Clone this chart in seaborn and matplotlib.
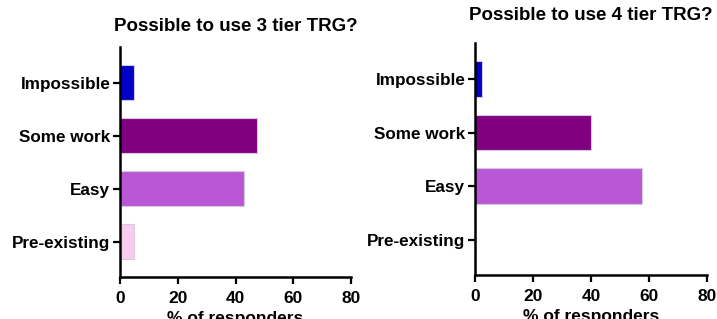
import pandas as pd
import numpy as np
import matplotlib
matplotlib.use('Agg')
import matplotlib.pyplot as plt
import seaborn as sns

categories = ['Impossible', 'Some work', 'Easy', 'Pre-existing']
tier3_pct = [4.76, 47.6, 42.9, 4.76]
tier4_pct = [2.5, 40.0, 57.5, 0.0]
titles = ['Possible to use 3 tier TRG?', 'Possible to use 4 tier TRG?']
bar_colors = ['#0000C8', '#800080', '#B957D6', '#F8CCEE']
x_ticks = [0, 20, 40, 60, 80]

sns.set_style('white')
plt.rcParams['font.family'] = ['Liberation Sans', 'DejaVu Sans']
plt.rcParams['font.weight'] = 'bold'
plt.rcParams['text.color'] = 'black'
plt.rcParams['axes.labelcolor'] = 'black'

fig = plt.figure(figsize=(7.17, 3.19), dpi=100)
ax1 = fig.add_axes([0.1674, 0.1317, 0.3222, 0.7210])
ax2 = fig.add_axes([0.6625, 0.1380, 0.3232, 0.7270])

for ax, vals, title, tpad in zip([ax1, ax2], [tier3_pct, tier4_pct], titles, [11.5, 16.5]):
    df = pd.DataFrame({'answer': categories, 'pct': vals})
    sns.barplot(data=df, x='pct', y='answer', hue='answer', order=categories,
                hue_order=categories, palette=bar_colors, legend=False, saturation=1,
                width=0.66, edgecolor='#D8C8E0', linewidth=0.8, ax=ax)
    ax.set_xlim(0, 80)
    ax.set_ylim(3.66, -0.67)
    ax.set_xticks(x_ticks)
    ax.set_title(title, fontsize=13.5, fontweight='bold', pad=tpad, color='black')
    ax.set_xlabel('% of responders', fontsize=12.5, fontweight='bold', labelpad=4, color='black')
    ax.set_ylabel('')
    sns.despine(ax=ax)
    for s in ['left', 'bottom']:
        ax.spines[s].set_linewidth(1.8)
        ax.spines[s].set_color('black')
    ax.tick_params(axis='both', direction='out', length=5, width=1.6, colors='black',
                   labelsize=12.5, left=True, bottom=True)
    ax.tick_params(axis='x', pad=5)
    ax.tick_params(axis='y', labelsize=12.3, pad=2)
    for lab in ax.get_xticklabels() + ax.get_yticklabels():
        lab.set_fontweight('bold')

fig.savefig('out.png', dpi=100)
